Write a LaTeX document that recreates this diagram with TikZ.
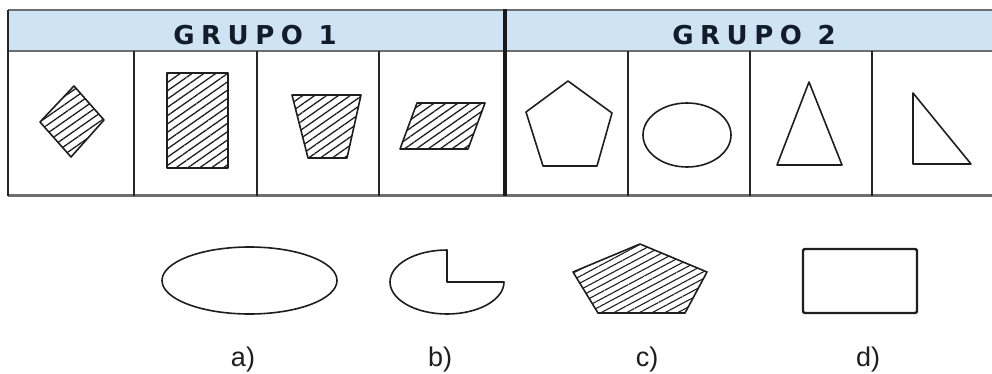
\documentclass[tikz,border=0pt]{standalone}
\usepackage{fontspec}
\setmainfont{Liberation Sans}
\newfontfamily\hdrfont[LetterSpace=25]{DejaVu Sans}
\usetikzlibrary{patterns.meta}
\definecolor{hdrfill}{RGB}{206,228,245}
\definecolor{hdrtext}{RGB}{18,28,42}
\definecolor{gridgray}{RGB}{110,110,110}
\definecolor{shapeline}{RGB}{30,30,30}
\begin{document}
\begin{tikzpicture}[x=1pt,y=-1pt,
  hatched/.style={draw=shapeline,line width=1.6pt,line join=round,
    pattern={Lines[angle=35,distance=6.8pt,line width=1.3pt]},pattern color=shapeline},
  hatchedc/.style={draw=shapeline,line width=1.6pt,line join=round,
    pattern={Lines[angle=28,distance=6pt,line width=1.1pt]},pattern color=shapeline},
  plain/.style={draw=shapeline,line width=1.6pt,line join=round},
  hdrlbl/.style={font=\hdrfont\fontsize{26}{28}\selectfont\bfseries,text=hdrtext,inner sep=0pt},
  optlbl/.style={font=\fontsize{27}{29}\selectfont,text=shapeline,inner sep=0pt,anchor=base},
  thin/.style={draw=black!85,line width=2pt},
  grayline/.style={draw=gridgray,line width=2.2pt}]
\useasboundingbox (0,0) rectangle (992,374);
% header
\fill[hdrfill] (8,10) rectangle (992,51);
\draw[grayline] (8,10) -- (992,10);
\draw[grayline] (8,51) -- (992,51);
\draw[grayline,line width=3pt] (8,195) -- (992,195);
\draw[thin] (8,10) -- (8,196);
\foreach \xx in {134,257,379,628,750,872}{\draw[thin] (\xx,51) -- (\xx,196);}
\draw[draw=black!90,line width=4pt] (505,9) -- (505,196);
\node[hdrlbl] (g1) at (255,35) {GRUPO 1};
\node[hdrlbl] (g2) at (754,35) {GRUPO 2};
% group 1
\draw[hatched] (74,86) -- (104,120) -- (71,157) -- (40,122) -- cycle;
\draw[hatched,line width=2.2pt] (167,73) rectangle (228,168);
\draw[hatched] (292,95) -- (361,95) -- (347,158) -- (308,158) -- cycle;
\draw[hatched] (417,103) -- (485,103) -- (468,149) -- (400,149) -- cycle;
% group 2
\draw[plain] (568,81) -- (612,113) -- (597,166) -- (543,166) -- (526,112) -- cycle;
\draw[plain] (687,135) ellipse[x radius=44,y radius=32];
\draw[plain] (809,82) -- (842,165) -- (777,165) -- cycle;
\draw[plain] (913,93) -- (971,164) -- (913,164) -- cycle;
% options
\draw[plain] (249.5,280.5) ellipse[x radius=87.5,y radius=33.5];
\draw[plain] (447,282) -- (447,250) arc[start angle=270,end angle=0,x radius=57,y radius=32] -- cycle;
\draw[hatchedc] (640,244) -- (707,272) -- (685,313) -- (598,313) -- (573,272) -- cycle;
\draw[plain,line width=2.4pt,rounded corners=2pt] (803,249) rectangle (917,313);
\node[optlbl] (la) at (243,366) {a)};
\node[optlbl] (lb) at (440,366) {b)};
\node[optlbl] (lc) at (647,366) {c)};
\node[optlbl] (ld) at (868,366) {d)};
\end{tikzpicture}
\end{document}
